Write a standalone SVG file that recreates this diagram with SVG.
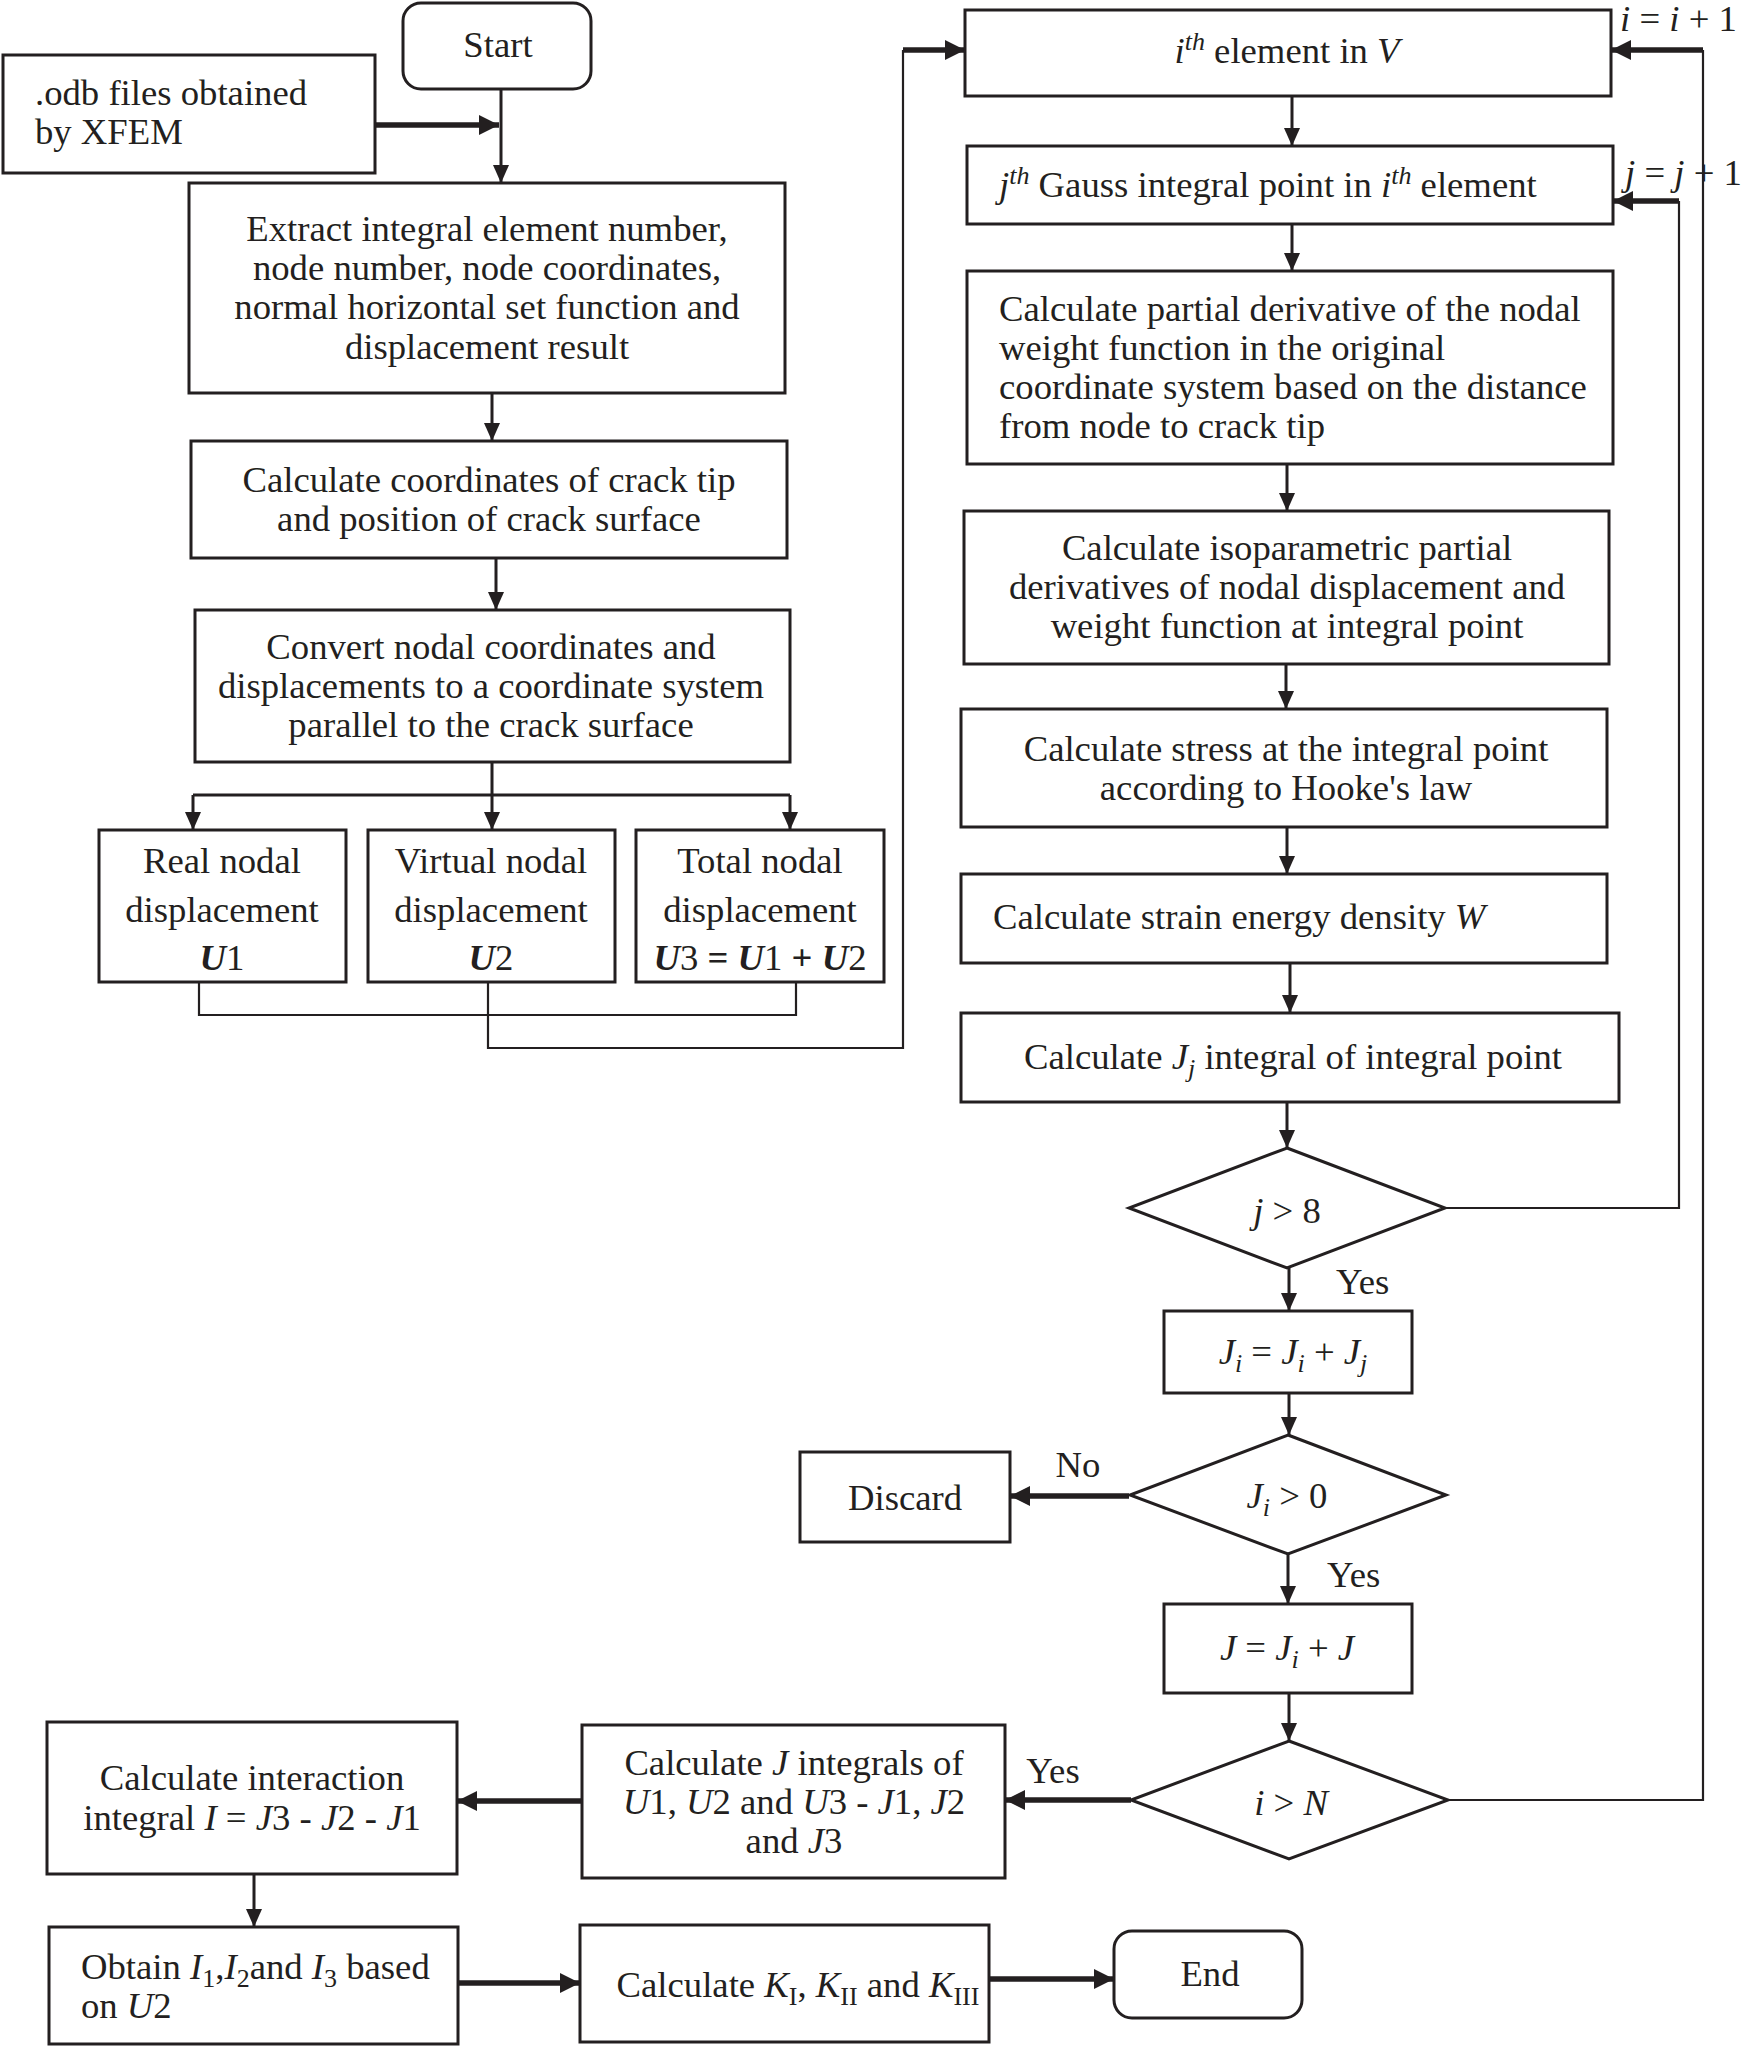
<svg xmlns="http://www.w3.org/2000/svg" width="1752" height="2047" viewBox="0 0 1752 2047">
<style>
.box{fill:#fff;stroke:#231f20;stroke-width:3}
.ln{fill:none;stroke:#231f20;stroke-width:3}
.thin{fill:none;stroke:#231f20;stroke-width:2.2}
.thick{fill:none;stroke:#231f20;stroke-width:5.5}
text{font-family:"Liberation Serif","Times New Roman",serif;font-size:36.7px;fill:#231f20}
.c{text-anchor:middle}
.i{font-style:italic}
.b{font-weight:bold}
</style>
<defs>
<marker id="ah" markerUnits="userSpaceOnUse" markerWidth="20" markerHeight="18" refX="18" refY="8" orient="auto">
<path d="M0,0 L18,8 L0,16 Z" fill="#231f20"/>
</marker>
<marker id="ahb" markerUnits="userSpaceOnUse" markerWidth="22" markerHeight="22" refX="20" refY="10" orient="auto">
<path d="M0,0 L20,10 L0,20 Z" fill="#231f20"/>
</marker>
</defs>
<rect width="1752" height="2047" fill="#fff"/>

<g id="connectors">
<path class="ln" d="M501,89 V183" marker-end="url(#ah)"/>
<path class="thick" d="M375,125 H499" marker-end="url(#ahb)"/>
<path class="ln" d="M492,393 V441" marker-end="url(#ah)"/>
<path class="ln" d="M496,558 V610" marker-end="url(#ah)"/>
<path class="ln" d="M492,762 V795 M193,795 H790"/>
<path class="ln" d="M193,795 V830" marker-end="url(#ah)"/>
<path class="ln" d="M492,795 V830" marker-end="url(#ah)"/>
<path class="ln" d="M790,795 V830" marker-end="url(#ah)"/>
<path class="thin" d="M199,982 V1015 H796 V982"/>
<path class="thin" d="M488,982 V1048 H903 V50"/>
<path class="thick" d="M903,50 H965" marker-end="url(#ahb)"/>
<path class="ln" d="M1292,96 V146" marker-end="url(#ah)"/>
<path class="ln" d="M1292,224 V271" marker-end="url(#ah)"/>
<path class="ln" d="M1287,464 V511" marker-end="url(#ah)"/>
<path class="ln" d="M1286,664 V709" marker-end="url(#ah)"/>
<path class="ln" d="M1287,827 V874" marker-end="url(#ah)"/>
<path class="ln" d="M1290,963 V1013" marker-end="url(#ah)"/>
<path class="ln" d="M1287,1102 V1148" marker-end="url(#ah)"/>
<path class="thin" d="M1445,1208 H1679 V201"/>
<path class="thick" d="M1679,201 H1613" marker-end="url(#ahb)"/>
<path class="ln" d="M1289,1268 V1311" marker-end="url(#ah)"/>
<path class="ln" d="M1289,1393 V1435" marker-end="url(#ah)"/>
<path class="thick" d="M1129,1496 H1010" marker-end="url(#ahb)"/>
<path class="ln" d="M1288,1554 V1604" marker-end="url(#ah)"/>
<path class="ln" d="M1289,1693 V1741" marker-end="url(#ah)"/>
<path class="thin" d="M1448,1800 H1703 V50"/>
<path class="thick" d="M1703,50 H1611" marker-end="url(#ahb)"/>
<path class="thick" d="M1131,1800 H1005" marker-end="url(#ahb)"/>
<path class="thick" d="M582,1801 H457" marker-end="url(#ahb)"/>
<path class="ln" d="M254,1874 V1927" marker-end="url(#ah)"/>
<path class="thick" d="M458,1983 H580" marker-end="url(#ahb)"/>
<path class="thick" d="M989,1979 H1114" marker-end="url(#ahb)"/>
</g>

<g id="start"><rect class="box" x="403" y="3" width="188" height="86" rx="18"/><text class="c" x="498" y="57">Start</text></g>
<g id="odb"><rect class="box" x="3" y="55" width="372" height="118"/><text x="35" y="105">.odb files obtained</text><text x="35" y="144">by XFEM</text></g>
<g id="extract"><rect class="box" x="189" y="183" width="596" height="210"/>
<text class="c" x="487" y="241">Extract integral element number,</text>
<text class="c" x="487" y="280">node number, node coordinates,</text>
<text class="c" x="487" y="319">normal horizontal set function and</text>
<text class="c" x="487" y="359">displacement result</text></g>
<g id="crack"><rect class="box" x="191" y="441" width="596" height="117"/>
<text class="c" x="489" y="492">Calculate coordinates of crack tip</text>
<text class="c" x="489" y="531">and position of crack surface</text></g>
<g id="convert"><rect class="box" x="195" y="610" width="595" height="152"/>
<text class="c" x="491" y="659">Convert nodal coordinates and</text>
<text class="c" x="491" y="698">displacements to a coordinate system</text>
<text class="c" x="491" y="737">parallel to the crack surface</text></g>
<g id="real"><rect class="box" x="99" y="830" width="247" height="152"/>
<text class="c" x="222" y="873">Real nodal</text><text class="c" x="222" y="922">displacement</text>
<text class="c" x="222" y="970"><tspan class="i b">U</tspan>1</text></g>
<g id="virtual"><rect class="box" x="368" y="830" width="247" height="152"/>
<text class="c" x="491" y="873">Virtual nodal</text><text class="c" x="491" y="922">displacement</text>
<text class="c" x="491" y="970"><tspan class="i b">U</tspan>2</text></g>
<g id="total"><rect class="box" x="636" y="830" width="248" height="152"/>
<text class="c" x="760" y="873">Total nodal</text><text class="c" x="760" y="922">displacement</text>
<text class="c" x="760" y="970"><tspan class="i b">U</tspan>3 <tspan class="b">=</tspan> <tspan class="i b">U</tspan>1 <tspan class="b">+</tspan> <tspan class="i b">U</tspan>2</text></g>

<g id="ith"><rect class="box" x="965" y="10" width="646" height="86"/>
<text class="c" x="1287" y="63"><tspan class="i">i</tspan><tspan class="i" font-size="26" dy="-13">th</tspan><tspan dy="13"> element in </tspan><tspan class="i">V</tspan></text></g>
<text x="1620" y="31"><tspan class="i">i</tspan> = <tspan class="i">i</tspan> + 1</text>
<g id="jth"><rect class="box" x="967" y="146" width="646" height="78"/>
<text x="999" y="197"><tspan class="i">j</tspan><tspan class="i" font-size="26" dy="-13">th</tspan><tspan dy="13"> Gauss integral point in </tspan><tspan class="i">i</tspan><tspan class="i" font-size="26" dy="-13">th</tspan><tspan dy="13"> element</tspan></text></g>
<text x="1625" y="185"><tspan class="i">j</tspan> = <tspan class="i">j</tspan> + 1</text>
<g id="partial"><rect class="box" x="967" y="271" width="646" height="193"/>
<text x="999" y="321">Calculate partial derivative of the nodal</text>
<text x="999" y="360">weight function in the original</text>
<text x="999" y="399">coordinate system based on the distance</text>
<text x="999" y="438">from node to crack tip</text></g>
<g id="iso"><rect class="box" x="964" y="511" width="645" height="153"/>
<text class="c" x="1287" y="560">Calculate isoparametric partial</text>
<text class="c" x="1287" y="599">derivatives of nodal displacement and</text>
<text class="c" x="1287" y="638">weight function at integral point</text></g>
<g id="hooke"><rect class="box" x="961" y="709" width="646" height="118"/>
<text class="c" x="1286" y="761">Calculate stress at the integral point</text>
<text class="c" x="1286" y="800">according to Hooke's law</text></g>
<g id="strain"><rect class="box" x="961" y="874" width="646" height="89"/>
<text x="993" y="929">Calculate strain energy density <tspan class="i">W</tspan></text></g>
<g id="jj"><rect class="box" x="961" y="1013" width="658" height="89"/>
<text class="c" x="1293" y="1069">Calculate <tspan class="i">J</tspan><tspan class="i" font-size="26" dy="8">j</tspan><tspan dy="-8"> integral of integral point</tspan></text></g>
<g id="d_j8"><path class="box" d="M1287,1148 L1445,1208 L1287,1268 L1129,1208 Z"/>
<text class="c" x="1287" y="1223"><tspan class="i">j</tspan> &gt; 8</text></g>
<text x="1336" y="1294">Yes</text>
<g id="ji"><rect class="box" x="1164" y="1311" width="248" height="82"/>
<text class="c" x="1293" y="1364"><tspan class="i">J</tspan><tspan class="i" font-size="26" dy="8">i</tspan><tspan dy="-8"> = </tspan><tspan class="i">J</tspan><tspan class="i" font-size="26" dy="8">i</tspan><tspan dy="-8"> + </tspan><tspan class="i">J</tspan><tspan class="i" font-size="26" dy="8">j</tspan></text></g>
<g id="d_ji0"><path class="box" d="M1288,1435 L1446,1495 L1288,1554 L1130,1495 Z"/>
<text class="c" x="1287" y="1508"><tspan class="i">J</tspan><tspan class="i" font-size="26" dy="8">i</tspan><tspan dy="-8"> &gt; 0</tspan></text></g>
<text class="c" x="1078" y="1477">No</text>
<g id="discard"><rect class="box" x="800" y="1452" width="210" height="90"/>
<text class="c" x="905" y="1510">Discard</text></g>
<text x="1327" y="1587">Yes</text>
<g id="jsum"><rect class="box" x="1164" y="1604" width="248" height="89"/>
<text class="c" x="1287" y="1660"><tspan class="i">J</tspan> = <tspan class="i">J</tspan><tspan class="i" font-size="26" dy="8">i</tspan><tspan dy="-8"> + </tspan><tspan class="i">J</tspan></text></g>
<g id="d_iN"><path class="box" d="M1289,1741 L1448,1800 L1289,1859 L1131,1800 Z"/>
<text class="c" x="1291" y="1815"><tspan class="i">i</tspan> &gt; <tspan class="i">N</tspan></text></g>
<text class="c" x="1053" y="1783">Yes</text>
<g id="jint"><rect class="box" x="582" y="1725" width="423" height="153"/>
<text class="c" x="794" y="1775">Calculate <tspan class="i">J</tspan> integrals of</text>
<text class="c" x="794" y="1814"><tspan class="i">U</tspan>1, <tspan class="i">U</tspan>2 and <tspan class="i">U</tspan>3 - <tspan class="i">J</tspan>1, <tspan class="i">J</tspan>2</text>
<text class="c" x="794" y="1853">and <tspan class="i">J</tspan>3</text></g>
<g id="interaction"><rect class="box" x="47" y="1722" width="410" height="152"/>
<text class="c" x="252" y="1790">Calculate interaction</text>
<text class="c" x="252" y="1830">integral <tspan class="i">I</tspan> = <tspan class="i">J</tspan>3 - <tspan class="i">J</tspan>2 - <tspan class="i">J</tspan>1</text></g>
<g id="obtain"><rect class="box" x="49" y="1927" width="409" height="117"/>
<text x="81" y="1979">Obtain <tspan class="i">I</tspan><tspan font-size="26" dy="8">1</tspan><tspan dy="-8">,</tspan><tspan class="i">I</tspan><tspan font-size="26" dy="8">2</tspan><tspan dy="-8">and </tspan><tspan class="i">I</tspan><tspan font-size="26" dy="8">3</tspan><tspan dy="-8"> based</tspan></text>
<text x="81" y="2018">on <tspan class="i">U</tspan>2</text></g>
<g id="kcalc"><rect class="box" x="580" y="1925" width="409" height="117"/>
<text class="c" x="798" y="1997">Calculate <tspan class="i">K</tspan><tspan font-size="26" dy="8">I</tspan><tspan dy="-8">, </tspan><tspan class="i">K</tspan><tspan font-size="26" dy="8">II</tspan><tspan dy="-8"> and </tspan><tspan class="i">K</tspan><tspan font-size="26" dy="8">III</tspan></text></g>
<g id="end"><rect class="box" x="1114" y="1931" width="188" height="87" rx="18"/>
<text class="c" x="1210" y="1986">End</text></g>
</svg>
